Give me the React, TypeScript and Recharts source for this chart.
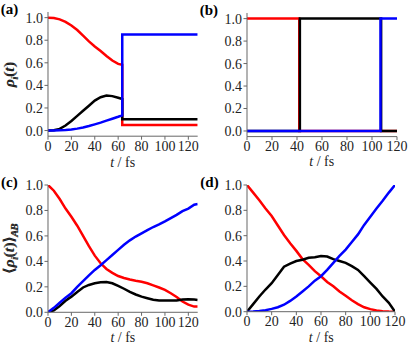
import { LineChart, Line, XAxis, YAxis } from "recharts";

// panel (a): populations, jump at t = 63.5 fs
const tA = [0, 5, 10, 15, 20, 25, 30, 35, 40, 45, 50, 55, 60, 63.5, 63.5, 128];
const redA = [1.0, 0.997, 0.985, 0.963, 0.93, 0.89, 0.84, 0.79, 0.745, 0.705, 0.66, 0.62, 0.59, 0.582, 0.05, 0.05];
const blackA = [0, 0.002, 0.015, 0.045, 0.085, 0.13, 0.175, 0.22, 0.265, 0.295, 0.31, 0.305, 0.29, 0.28, 0.1, 0.1];
const blueA = [0, 0, 0.002, 0.005, 0.01, 0.017, 0.027, 0.04, 0.055, 0.07, 0.088, 0.105, 0.122, 0.135, 0.85, 0.85];

// panel (b): hops
const tRedB = [0, 41.8, 41.8, 120];
const redB = [1, 1, 0, 0];
const tBlackB = [0, 42.3, 42.3, 107.3, 107.3, 120];
const blackB = [0, 0, 1, 1, 0, 0];
const tBlueB = [0, 106.8, 106.8, 120];
const blueB = [0, 0, 1, 1];

// panel (c): averaged populations
const tC = [0, 5, 10, 15, 20, 25, 30, 35, 40, 45, 50, 55, 60, 65, 70, 75, 80, 85, 90, 95, 100, 105, 110, 115, 120, 125, 128];
const redC = [1.0, 0.955, 0.89, 0.815, 0.75, 0.68, 0.6, 0.52, 0.445, 0.385, 0.34, 0.31, 0.285, 0.27, 0.258, 0.248, 0.24, 0.228, 0.212, 0.195, 0.176, 0.15, 0.12, 0.085, 0.06, 0.045, 0.045];
const blueC = [0, 0.035, 0.075, 0.115, 0.15, 0.2, 0.245, 0.29, 0.333, 0.37, 0.41, 0.45, 0.49, 0.53, 0.565, 0.595, 0.62, 0.645, 0.67, 0.69, 0.714, 0.74, 0.765, 0.795, 0.815, 0.845, 0.85];
const blackC = [0, 0.015, 0.05, 0.09, 0.123, 0.16, 0.195, 0.215, 0.228, 0.236, 0.238, 0.228, 0.207, 0.185, 0.16, 0.14, 0.123, 0.11, 0.098, 0.093, 0.092, 0.092, 0.093, 0.1, 0.102, 0.1, 0.097];

// panel (d)
const tD = [0, 5, 10, 15, 20, 25, 30, 35, 40, 45, 50, 55, 60, 65, 70, 75, 80, 85, 90, 95, 100, 105, 110, 115, 120];
const redD = [1, 0.94, 0.88, 0.815, 0.755, 0.68, 0.605, 0.54, 0.48, 0.415, 0.37, 0.32, 0.28, 0.235, 0.2, 0.16, 0.125, 0.09, 0.06, 0.035, 0.02, 0.01, 0.004, 0.001, 0];
const blackD = [0, 0.06, 0.12, 0.175, 0.225, 0.29, 0.355, 0.38, 0.4, 0.41, 0.425, 0.43, 0.44, 0.435, 0.415, 0.4, 0.385, 0.36, 0.33, 0.28, 0.23, 0.18, 0.12, 0.07, 0];
const blueD = [0, 0.001, 0.005, 0.012, 0.022, 0.035, 0.055, 0.085, 0.12, 0.16, 0.2, 0.245, 0.28, 0.33, 0.385, 0.44, 0.49, 0.55, 0.61, 0.685, 0.75, 0.815, 0.875, 0.94, 1.0];

const xTicks = [0, 20, 40, 60, 80, 100, 120];
const yTicks = [0, 0.2, 0.4, 0.6, 0.8, 1.0];

const RED = "#ff0000";
const BLACK = "#000000";
const BLUE = "#0000ff";
const FRAME = "#666666";
const FONT = "Liberation Serif";

const ML = 45;
const MT = 8;
const MR = 14;
const MB = 40;

const pts = (t: number[], v: number[]) => t.map((x, i) => ({ t: x, v: v[i] }));

type Series = { data: { t: number; v: number }[]; color: string };

type PanelProps = {
  left: number;
  top: number;
  w: number;
  h: number;
  xMax: number;
  yMin: number;
  yMax: number;
  series: Series[];
  letter: string;
  avg: boolean;
};

function Panel({ left, top, w, h, xMax, yMin, yMax, series, letter, avg }: PanelProps) {
  const tickStyle = { fontSize: 14, fill: "#222", fontFamily: FONT };
  return (
    <>
      <div style={{ position: "absolute", left: left - ML, top: top - MT }}>
        <LineChart width={w + ML + MR} height={h + MT + MB} margin={{ top: MT, right: MR, left: 0, bottom: 0 }}>
          <XAxis
            type="number"
            dataKey="t"
            domain={[0, xMax]}
            ticks={xTicks}
            interval={0}
            allowDataOverflow
            height={MB}
            tickSize={3.5}
            tickMargin={1}
            stroke={FRAME}
            tick={tickStyle}
          />
          <XAxis xAxisId="top" orientation="top" type="number" domain={[0, xMax]} tick={false} tickLine={false} height={0} stroke={FRAME} />
          <YAxis
            type="number"
            domain={[yMin, yMax]}
            ticks={yTicks}
            interval={0}
            allowDataOverflow
            width={ML}
            tickSize={3.5}
            tickMargin={1.5}
            stroke={FRAME}
            tick={tickStyle}
            tickFormatter={(v: number) => v.toFixed(1)}
          />
          <YAxis yAxisId="right" orientation="right" type="number" domain={[yMin, yMax]} tick={false} tickLine={false} width={0} stroke={FRAME} />
          {series.map((s, i) => (
            <Line
              key={i}
              data={s.data}
              dataKey="v"
              type="linear"
              stroke={s.color}
              strokeWidth={2.5}
              dot={false}
              activeDot={false}
              isAnimationActive={false}
            />
          ))}
        </LineChart>
      </div>
      <div
        style={{
          position: "absolute",
          left: left + w / 2,
          top: top + h + 26,
          transform: "translate(-50%, -50%)",
          fontFamily: FONT,
          fontSize: 14,
          whiteSpace: "nowrap",
          lineHeight: 1,
          color: "#222",
        }}
      >
        <i>t</i>&nbsp;/&nbsp;fs
      </div>
      <div
        style={{
          position: "absolute",
          left: 11,
          top: top + h / 2,
          transform: "translate(-50%, -50%) rotate(-90deg)",
          fontFamily: FONT,
          fontSize: 15,
          whiteSpace: "nowrap",
          lineHeight: 1,
          color: "#222",
        }}
      >
        {avg ? "⟨" : ""}
        <i>ρ</i>
        <sub style={{ fontSize: "0.7em" }}>
          <i>i</i>
        </sub>
        (<i>t</i>){avg ? "⟩" : ""}
        {avg ? (
          <sub style={{ fontSize: "0.7em" }}>
            <i>AB</i>
          </sub>
        ) : null}
      </div>
      <div
        style={{
          position: "absolute",
          left: left - 47,
          top: top - 10,
          fontFamily: FONT,
          fontSize: 15,
          fontWeight: "bold",
          lineHeight: 1,
        }}
      >
        ({letter})
      </div>
    </>
  );
}

export default function App() {
  return (
    <div style={{ position: "absolute", left: 0, top: 0, width: 415, height: 352, background: "#fff", overflow: "hidden" }}>
      <Panel
        left={47.8}
        top={12.4}
        w={149.7}
        h={124.2}
        xMax={128}
        yMin={-0.05}
        yMax={1.05}
        letter="a"
        avg={false}
        series={[
          { data: pts(tA, redA), color: RED },
          { data: pts(tA, blackA), color: BLACK },
          { data: pts(tA, blueA), color: BLUE },
        ]}
      />
      <Panel
        left={246.7}
        top={12.6}
        w={150}
        h={123.6}
        xMax={120}
        yMin={-0.05}
        yMax={1.05}
        letter="b"
        avg={false}
        series={[
          { data: pts(tRedB, redB), color: RED },
          { data: pts(tBlackB, blackB), color: BLACK },
          { data: pts(tBlueB, blueB), color: BLUE },
        ]}
      />
      <Panel
        left={48}
        top={185}
        w={149.7}
        h={127.3}
        xMax={128}
        yMin={0}
        yMax={1}
        letter="c"
        avg
        series={[
          { data: pts(tC, redC), color: RED },
          { data: pts(tC, blackC), color: BLACK },
          { data: pts(tC, blueC), color: BLUE },
        ]}
      />
      <Panel
        left={247.3}
        top={185}
        w={148}
        h={126.7}
        xMax={120}
        yMin={0}
        yMax={1}
        letter="d"
        avg
        series={[
          { data: pts(tD, redD), color: RED },
          { data: pts(tD, blackD), color: BLACK },
          { data: pts(tD, blueD), color: BLUE },
        ]}
      />
    </div>
  );
}
